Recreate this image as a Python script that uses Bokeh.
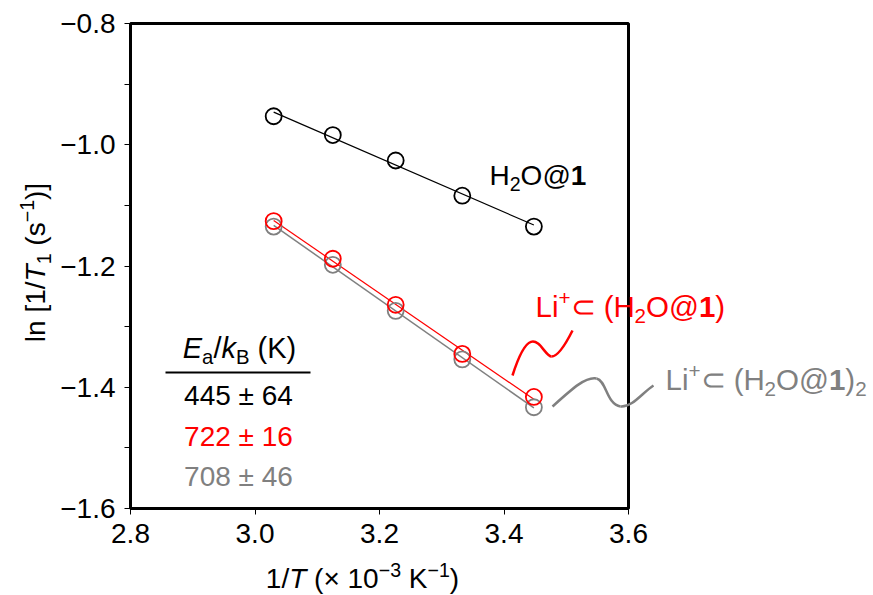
import math
import numpy as np
from bokeh.plotting import figure
from bokeh.models import FixedTicker, CustomJSTickFormatter, Range1d
from bokeh.core.properties import value
from bokeh.embed import file_html
from bokeh.resources import INLINE

# ---------------- data ----------------
inv_T = [3.030, 3.125, 3.226, 3.333, 3.448]          # 1/T (x 10^-3 K^-1)
ln_h2o = [-0.953, -0.984, -1.026, -1.084, -1.135]     # H2O@1
ln_li = [-1.126, -1.188, -1.264, -1.345, -1.416]      # Li+ ⊂ (H2O@1)
ln_li2 = [-1.135, -1.198, -1.274, -1.354, -1.433]     # Li+ ⊂ (H2O@1)2
x_ticks = [2.8, 3.0, 3.2, 3.4, 3.6]
y_ticks = [-1.6, -1.4, -1.2, -1.0, -0.8]
y_minor = [-1.5, -1.3, -1.1, -0.9]
ea_values = ["445 ± 64", "722 ± 16", "708 ± 46"]

BLACK = "#000000"
RED = "#ff0000"
GRAY = "#808080"
FONT = "Liberation Sans"
NB = "\u00a0"

# frame geometry (canvas px)
FL, FR, FT, FB = 130, 628, 23, 508
XMIN, XMAX, YMIN, YMAX = 2.8, 3.6, -1.6, -0.8
BASE_FIX = 0.37   # text baseline correction (fraction of font size)


def X(px):
    return XMIN + (px - FL) / (FR - FL) * (XMAX - XMIN)


def Y(py):
    return YMAX - (py - FT) / (FB - FT) * (YMAX - YMIN)


p = figure(width=873, height=595, x_range=Range1d(XMIN, XMAX), y_range=Range1d(YMIN, YMAX),
           output_backend="svg", toolbar_location=None,
           min_border_left=FL, min_border_right=873 - FR,
           min_border_top=FT, min_border_bottom=595 - FB)
p.xgrid.visible = False
p.ygrid.visible = False
p.outline_line_color = BLACK
p.outline_line_width = 3
p.background_fill_color = "white"
p.border_fill_color = "white"

fmt = CustomJSTickFormatter(code="return (tick < 0 ? '\\u2212' : '') + Math.abs(tick).toFixed(1);")
p.xaxis.ticker = FixedTicker(ticks=x_ticks, minor_ticks=[])
p.yaxis.ticker = FixedTicker(ticks=y_ticks, minor_ticks=y_minor)
for ax in (p.xaxis[0], p.yaxis[0]):
    ax.formatter = fmt
    ax.axis_line_width = 3
    ax.axis_line_color = BLACK
    ax.major_tick_in = 0
    ax.major_tick_out = 6
    ax.minor_tick_in = 0
    ax.minor_tick_out = 6
    ax.major_tick_line_width = 1
    ax.minor_tick_line_width = 1
    ax.major_tick_line_color = BLACK
    ax.minor_tick_line_color = BLACK
    ax.major_label_text_font = FONT
    ax.major_label_text_font_size = "28px"
    ax.major_label_text_color = BLACK
p.xaxis.major_label_standoff = 9
p.yaxis.major_label_standoff = 9

# ---------------- fits + points ----------------
for ys, col, lw in ((ln_li2, GRAY, 1.5), (ln_li, RED, 1.2), (ln_h2o, BLACK, 1.2)):
    k, b = np.polyfit(inv_T, ys, 1)
    xs = [min(inv_T), max(inv_T)]
    p.line(xs, [k * x + b for x in xs], line_color=col, line_width=lw)
for ys, col in ((ln_li2, GRAY), (ln_li, RED), (ln_h2o, BLACK)):
    p.scatter(inv_T, ys, marker="circle", size=16, fill_color=None, line_color=col, line_width=1.8)

# ---------------- text helpers ----------------
CW = {
    '0': .556, '1': .556, '2': .556, '3': .556, '4': .556, '5': .556, '6': .556, '7': .556, '8': .556, '9': .556,
    '.': .278, ' ': .278, NB: .278, '/': .278, '[': .278, ']': .278, '(': .333, ')': .333, 'l': .222, 'n': .556,
    's': .5, 'T': .611, 'H': .722, 'O': .778, '@': 1.015, 'L': .556, 'i': .222, '+': .584, '\u2212': .584,
    '×': .584, '±': .584, 'E': .667, 'a': .556, 'k': .5, 'B': .667, 'K': .667, '⊂': .838,
}
SCALE = 0.7


def tw(s):
    return sum(CW.get(c, .556) for c in s)


def run_width(runs, size):
    w = 0
    for text, kind, style in runs:
        fs = size * (SCALE if kind != "n" else 1.0)
        w += tw(text) * fs
    return w


def put_text(cx, cy, text, size, style, color, angle=0.0, align="left"):
    # cx, cy: wanted baseline anchor in canvas px
    if angle == 0:
        cy = cy - BASE_FIX * size
    else:
        cx = cx - BASE_FIX * size
    r = p.text(x=[X(cx)], y=[Y(cy)], text=[text], text_font=value(FONT),
               text_font_size=value(f"{size:.1f}px"), text_font_style=value(style),
               text_color=color, angle=angle, text_align=align, text_baseline="alphabetic")
    r.level = "overlay"


def place(runs, px, py, size, color, angle=0.0):
    adv = 0.0
    for text, kind, style in runs:
        fs = size * (SCALE if kind != "n" else 1.0)
        shift = {"n": 0.0, "sub": -0.22 * size, "sup": 0.40 * size}[kind]
        if angle == 0:
            cx, cy = px + adv, py - shift
        else:
            cx, cy = px - shift, py - adv
        put_text(cx, cy, text, fs, style, color, angle)
        adv += tw(text) * fs


N, SUB, SUP = "n", "sub", "sup"

# series labels
place([("H", N, "normal"), ("2", SUB, "normal"), ("O@", N, "normal"), ("1", N, "bold")],
      489, 185, 28, BLACK)
place([("Li", N, "normal"), ("+", SUP, "normal"), ("⊂" + NB + "(H", N, "normal"), ("2", SUB, "normal"),
       ("O@", N, "normal"), ("1", N, "bold"), (")", N, "normal")],
      535, 317, 29.5, RED)
place([("Li", N, "normal"), ("+", SUP, "normal"), ("⊂" + NB + "(H", N, "normal"), ("2", SUB, "normal"),
       ("O@", N, "normal"), ("1", N, "bold"), (")", N, "normal"), ("2", SUB, "normal")],
      665, 390, 29.5, GRAY)

# connectors (cubic bezier pieces, canvas px)
red_curve = [((512, 375), (532, 312), (542, 356), (551, 356)),
             ((551, 356), (558, 356), (566, 342), (572, 330))]
gray_curve = [((552, 406), (572, 388), (585, 376), (596, 378)),
              ((596, 378), (606, 380), (606, 404), (620, 406)),
              ((620, 406), (632, 407), (642, 392), (653, 385))]
for segs, col in ((red_curve, RED), (gray_curve, GRAY)):
    r = p.bezier(x0=[X(s[0][0]) for s in segs], y0=[Y(s[0][1]) for s in segs],
                 cx0=[X(s[1][0]) for s in segs], cy0=[Y(s[1][1]) for s in segs],
                 cx1=[X(s[2][0]) for s in segs], cy1=[Y(s[2][1]) for s in segs],
                 x1=[X(s[3][0]) for s in segs], y1=[Y(s[3][1]) for s in segs],
                 line_color=col, line_width=2.5)
    r.level = "overlay"

# activation-energy table
header = [("E", N, "italic"), ("a", SUB, "normal"), ("/", N, "normal"), ("k", N, "italic"),
          ("B", SUB, "normal"), (NB + "(K)", N, "normal")]
hw = run_width(header, 29)
place(header, 239 - hw / 2, 358, 29, BLACK)
p.segment(x0=[X(165)], y0=[Y(372)], x1=[X(310)], y1=[Y(372)], line_color=BLACK, line_width=2)
for txt, col, base in zip(ea_values, (BLACK, RED, GRAY), (405, 446, 486)):
    put_text(238, base, txt, 28, "normal", col, align="center")

# axis titles
xlab = [("1/", N, "normal"), ("T", N, "italic"), (NB + "(×" + NB + "10", N, "normal"), ("\u22123", SUP, "normal"),
        (NB + "K", N, "normal"), ("\u22121", SUP, "normal"), (")", N, "normal")]
xw = run_width(xlab, 28)
place(xlab, 362 - xw / 2, 588, 28, BLACK)

ylab = [("ln" + NB + "[1/", N, "normal"), ("T", N, "italic"), ("1", SUB, "normal"), (NB + "(s", N, "normal"),
        ("\u22121", SUP, "normal"), (")]", N, "normal")]
yw = run_width(ylab, 28)
place(ylab, 45, 262 + yw / 2, 28, BLACK, angle=math.pi / 2)

open("out.html", "w").write(file_html(p, INLINE))
